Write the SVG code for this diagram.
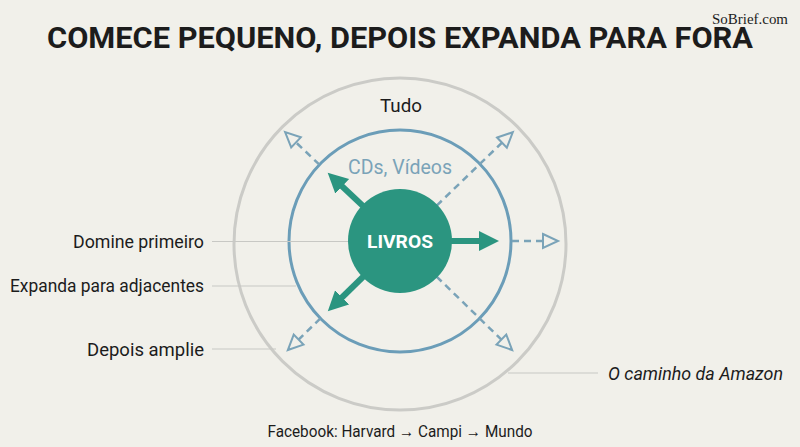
<svg xmlns="http://www.w3.org/2000/svg" width="800" height="447" viewBox="0 0 800 447">
<style>
text{font-family:Roboto,"Liberation Sans",sans-serif;fill:#1c1c1c}
.lbl{font-size:18px}
.lead{stroke:#c8c8c4;stroke-width:1.2;fill:none}
.dash{stroke:#7aa3b8;stroke-width:2.5;stroke-dasharray:7 5;fill:none;marker-end:url(#hollow)}
.solid{stroke:#2b9580;stroke-width:6;fill:none;marker-end:url(#head)}
</style>
<defs>
<marker id="head" markerUnits="userSpaceOnUse" viewBox="0 -11 22 22" markerWidth="22" markerHeight="22" refX="1" refY="0" orient="auto">
<path d="M0,-10 L20,0 L0,10 z" fill="#2b9580"/>
</marker>
<marker id="hollow" markerUnits="userSpaceOnUse" viewBox="-2 -10 20 20" markerWidth="20" markerHeight="20" refX="0" refY="0" orient="auto">
<path d="M0,-7 L15,0 L0,7 z" fill="#f1f0ea" stroke="#7aa3b8" stroke-width="2"/>
</marker>
</defs>
<rect width="800" height="447" fill="#f1f0ea"/>
<text x="400" y="48" text-anchor="middle" style="font-size:29.5px;font-weight:bold" textLength="706" lengthAdjust="spacingAndGlyphs">COMECE PEQUENO, DEPOIS EXPANDA PARA FORA</text>
<text x="712" y="24" style="font-family:'Liberation Serif',serif;font-size:14px" textLength="76" lengthAdjust="spacingAndGlyphs">SoBrief.com</text>
<g id="outer">
<circle cx="400" cy="244" r="166" fill="none" stroke="#cbcbc7" stroke-width="3"/>
<text x="401" y="112" text-anchor="middle" style="font-size:19px" textLength="42" lengthAdjust="spacingAndGlyphs">Tudo</text>
</g>
<g id="inner">
<circle cx="400" cy="241" r="111" fill="none" stroke="#6b9db8" stroke-width="3"/>
<text x="400" y="174" text-anchor="middle" style="font-size:20px;fill:#7aa3b8" textLength="104" lengthAdjust="spacingAndGlyphs">CDs, Vídeos</text>
</g>
<g id="labels">
<line class="lead" x1="212" y1="241.5" x2="350" y2="241.5"/>
<text class="lbl" x="204" y="248" text-anchor="end" textLength="131" lengthAdjust="spacingAndGlyphs">Domine primeiro</text>
<line class="lead" x1="212" y1="286" x2="296" y2="286"/>
<text class="lbl" x="204" y="292" text-anchor="end" textLength="194" lengthAdjust="spacingAndGlyphs">Expanda para adjacentes</text>
<line class="lead" x1="212" y1="349" x2="276" y2="349"/>
<text class="lbl" x="204" y="356" text-anchor="end" textLength="117" lengthAdjust="spacingAndGlyphs">Depois amplie</text>
<line class="lead" x1="508" y1="373" x2="598" y2="373"/>
<text class="lbl" x="608" y="380" style="font-style:italic" textLength="175" lengthAdjust="spacingAndGlyphs">O caminho da Amazon</text>
</g>
<g id="connectors">
<line class="dash" x1="319.4" y1="164.6" x2="296" y2="142.4"/>
<line class="dash" x1="436.7" y1="205.6" x2="502" y2="142.6"/>
<line class="dash" x1="512" y1="241" x2="543" y2="241"/>
<line class="dash" x1="320.4" y1="318.4" x2="298.6" y2="339.6"/>
<line class="dash" x1="436.6" y1="276.6" x2="501.4" y2="339.6"/>
</g>
<g id="livros">
<circle cx="400" cy="241" r="52" fill="#2b9580"/>
<text x="400" y="248" text-anchor="middle" style="font-size:19px;font-weight:bold;fill:#ffffff" textLength="66" lengthAdjust="spacingAndGlyphs">LIVROS</text>
</g>
<g id="solid-arrows">
<line class="solid" x1="450" y1="241" x2="480" y2="241"/>
<line class="solid" x1="363" y1="206" x2="341.5" y2="185.7"/>
<line class="solid" x1="363.4" y1="276.5" x2="341.4" y2="298"/>
</g>
<text x="400" y="437" text-anchor="middle" style="font-size:17px" textLength="265" lengthAdjust="spacingAndGlyphs">Facebook: Harvard → Campi → Mundo</text>
</svg>
